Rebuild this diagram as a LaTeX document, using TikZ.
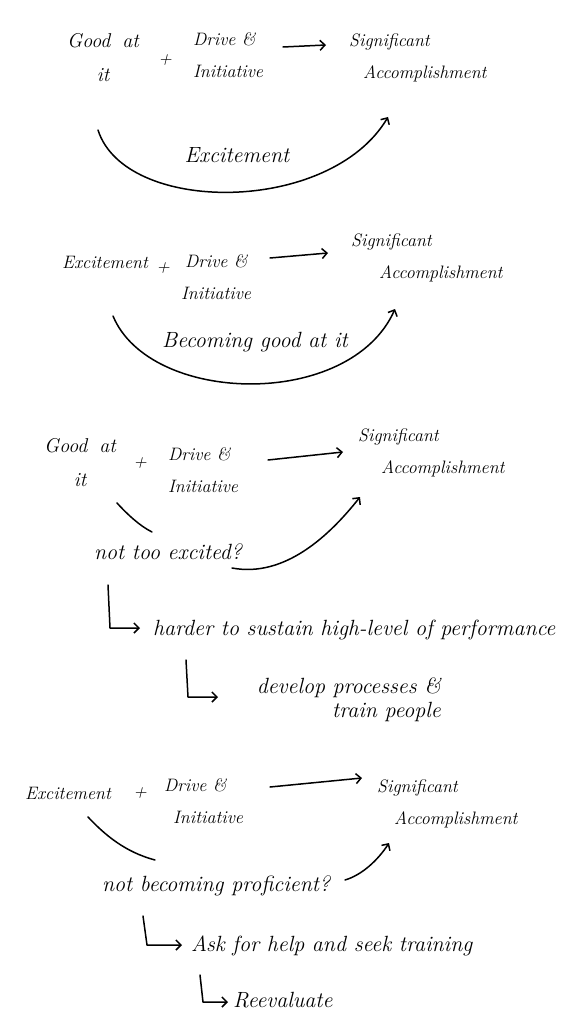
\documentclass[tikz,border=0pt]{standalone}
\usepackage{fontspec}
\usetikzlibrary{arrows.meta}
\tikzset{
  lbl/.style={font=\fontsize{18}{32}\selectfont\itshape, inner sep=1pt},
  glbl/.style={font=\fontsize{20}{34}\selectfont\itshape, inner sep=1pt, align=center},
  big/.style={font=\fontsize{22}{26}\selectfont\itshape, inner sep=1pt},
  pen/.style={line width=1.5pt, line cap=round, line join=round},
  tip/.style={-{Straight Barb[length=5pt,width=10pt]}},
}
\begin{document}
\begin{tikzpicture}[x=1pt,y=-1pt]
\fill[white] (0,0) rectangle (564,1024);
\useasboundingbox (0,0) rectangle (564,1024);

% ---------- section 1 ----------
\node[glbl] (g1) at (103,58) {Good\hspace{12pt}at\\it};
\node[lbl] (p1) at (165,60) {+};
\node[lbl,align=left,anchor=west] (d1) at (192,55) {Drive \&\\Initiative};
\node[lbl,align=left,anchor=west] (s1) at (348,58) {Significant\\\hspace*{14pt}Accomplishment};
\node[big] (e1) at (237,155) {Excitement};
\coordinate (a1s) at (283,47); \coordinate (a1e) at (326,45);
\draw[pen,tip] (a1s) -- (a1e);
\coordinate (c1s) at (98,130); \coordinate (c1e) at (388,117);
\draw[pen,tip] (c1s) .. controls (125,215) and (330,215) .. (c1e);

% ---------- section 2 ----------
\node[lbl] (e2) at (105,262) {Excitement};
\node[lbl] (p2) at (163,268) {+};
\node[lbl,align=left,anchor=west] (d2) at (180,277) {\hspace*{4pt}Drive \&\\Initiative};
\node[lbl,align=left,anchor=west] (s2) at (350,258) {Significant\\\hspace*{28pt}Accomplishment};
\node[big] (b2) at (255,342) {Becoming good at it};
\coordinate (a2s) at (270,258); \coordinate (a2e) at (328,253);
\draw[pen,tip] (a2s) -- (a2e);
\coordinate (c2s) at (113,316); \coordinate (c2e) at (395,309);
\draw[pen,tip] (c2s) .. controls (150,405) and (350,410) .. (c2e);

% ---------- section 3 ----------
\node[glbl] (g3) at (80,463) {Good\hspace{12pt}at\\it};
\node[lbl] (p3) at (140,463) {+};
\node[lbl,align=left,anchor=west] (d3) at (167,470) {Drive \&\\Initiative};
\node[lbl,align=left,anchor=west] (s3) at (357,453) {Significant\\\hspace*{23pt}Accomplishment};
\node[big] (n3) at (168,552) {not too excited?};
\node[big,anchor=west] (h3) at (152,630) {harder to sustain high-level of performance};
\node[big,align=right,anchor=east,font=\fontsize{22}{24}\selectfont\itshape] (v3) at (442,700) {develop processes \&\\train people};
\coordinate (a3s) at (268,460); \coordinate (a3e) at (343,452);
\draw[pen,tip] (a3s) -- (a3e);
\coordinate (l3s) at (117,503); \coordinate (l3e) at (152,532);
\draw[pen] (l3s) .. controls (128,515) and (140,526) .. (l3e);
\coordinate (c3s) at (232,568); \coordinate (c3e) at (360,497);
\draw[pen,tip] (c3s) .. controls (285,578) and (330,535) .. (c3e);
\coordinate (k3a) at (108,585); \coordinate (k3b) at (110,628); \coordinate (k3c) at (140,628);
\draw[pen,tip] (k3a) -- (k3b) -- (k3c);
\coordinate (k3d) at (186,660); \coordinate (k3e) at (188,697); \coordinate (k3f) at (218,697);
\draw[pen,tip] (k3d) -- (k3e) -- (k3f);

% ---------- section 4 ----------
\node[lbl] (e4) at (68,793) {Excitement};
\node[lbl] (p4) at (140,793) {+};
\node[lbl,align=left,anchor=west] (d4) at (163,801) {Drive \&\\\hspace*{9pt}Initiative};
\node[lbl,align=left,anchor=west] (s4) at (376,804) {Significant\\\hspace*{17pt}Accomplishment};
\node[big] (n4) at (216,886) {not becoming proficient?};
\node[big,anchor=west] (a4) at (190,946) {Ask for help and seek training};
\node[big,anchor=west] (r4) at (232,1000) {Reevaluate};
\coordinate (a4s) at (270,787); \coordinate (a4e) at (362,778);
\draw[pen,tip] (a4s) -- (a4e);
\coordinate (l4s) at (88,817); \coordinate (l4e) at (155,860);
\draw[pen] (l4s) .. controls (105,835) and (125,852) .. (l4e);
\coordinate (c4s) at (345,880); \coordinate (c4e) at (389,843);
\draw[pen,tip] (c4s) .. controls (362,875) and (378,860) .. (c4e);
\coordinate (k4a) at (143,916); \coordinate (k4b) at (147,945); \coordinate (k4c) at (182,945);
\draw[pen,tip] (k4a) -- (k4b) -- (k4c);
\coordinate (k4d) at (200,975); \coordinate (k4e) at (203,1002); \coordinate (k4f) at (228,1002);
\draw[pen,tip] (k4d) -- (k4e) -- (k4f);
\end{tikzpicture}
\end{document}
